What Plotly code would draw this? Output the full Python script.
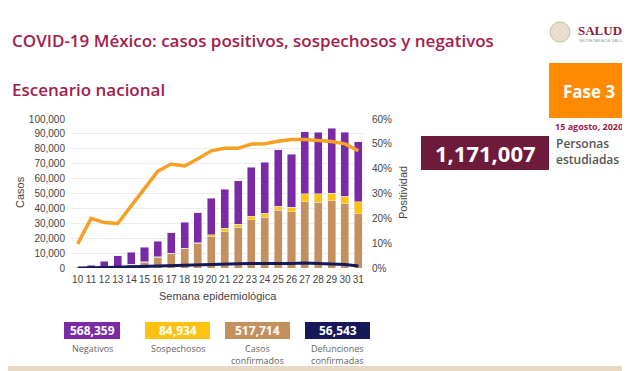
import plotly.graph_objects as go

weeks = list(range(10, 32))
confirmados = [50, 150, 500, 1000, 2500, 4000, 7200, 9600, 12800, 16500, 21000,
               24400, 27300, 32400, 34200, 38700, 37800, 44500, 44100, 45000, 43200, 36400]
sospechosos = [0, 20, 50, 100, 150, 200, 250, 300, 400, 500, 1300,
               2200, 2000, 2500, 2500, 2900, 3100, 5200, 5600, 5300, 4900, 8100]
negativos = [250, 1830, 3950, 7200, 7850, 9700, 10650, 13800, 17400, 20200, 24400,
             26200, 29100, 32700, 34400, 37800, 35600, 41600, 41300, 43400, 42900, 40300]
defunciones = [0, 50, 200, 500, 800, 1100, 1500, 1800, 2100, 2400, 2600,
               2800, 2900, 3100, 3000, 3100, 3000, 3300, 3100, 2900, 2400, 1300]
positividad = [9.7, 20, 18.3, 17.9, 25, 32, 39, 41.9, 41.1, 44, 47.2,
               48.2, 48.2, 49.9, 50, 51, 51.7, 51.7, 51.4, 50.9, 50, 47.2]

totales = ["568,359", "84,934", "517,714", "56,543"]
etiquetas = ["Negativos", "Sospechosos", "Casos<br>confirmados", "Defunciones<br>confirmadas"]

C_NEG = "#7B2AA6"
C_SOS = "#FFC20E"
C_CONF = "#C4915E"
C_DEF = "#15195A"
C_POS = "#F5A025"
CRIMSON = "#A3204C"
MAROON = "#6E1A3A"

OFF = 8  # browser body margin
W, H = 630 - OFF, 371 - OFF
L, R, T, B = 71, 365, 119, 268  # page pixel coords of plot area

def px(x):
    return (x - L) / (R - L)

def py(y):
    return (B - y) / (B - T)

fig = go.Figure()
fig.add_trace(go.Bar(x=weeks, y=confirmados, marker_color=C_CONF, width=0.6, name="Casos confirmados"))
fig.add_trace(go.Bar(x=weeks, y=sospechosos, marker_color=C_SOS, width=0.6, name="Sospechosos"))
fig.add_trace(go.Bar(x=weeks, y=negativos, marker_color=C_NEG, width=0.6, name="Negativos"))
fig.add_trace(go.Scatter(x=weeks, y=defunciones, mode="lines", line=dict(color=C_DEF, width=3), name="Defunciones"))
fig.add_trace(go.Scatter(x=weeks, y=positividad, mode="lines", yaxis="y2",
                         line=dict(color=C_POS, width=3.5), name="Positividad"))

tick_font = dict(family="Liberation Sans, Arial", size=10, color="#444")

fig.update_layout(
    width=W, height=H,
    margin=dict(l=L - OFF, r=630 - R, t=T - OFF, b=371 - B, pad=0),
    paper_bgcolor="white", plot_bgcolor="white",
    barmode="stack", showlegend=False,
    xaxis=dict(range=[9.5, 31.5], tickmode="array", tickvals=weeks, ticktext=[str(w) for w in weeks],
               tickangle=0, showgrid=False, zeroline=False, tickfont=tick_font, ticks="", ticklen=0,
               ticklabelstandoff=4),
    yaxis=dict(range=[0, 100000], dtick=10000, tickformat=",", showgrid=True, gridcolor="#ebebeb",
               zeroline=False, tickfont=tick_font, ticks="", ticklabelstandoff=5),
    yaxis2=dict(range=[0, 60], dtick=10, ticksuffix="%", overlaying="y", side="right",
                showgrid=False, zeroline=False, tickfont=tick_font, ticks="", ticklabelstandoff=6),
)

ann = []
hdr = "Open Sans, Noto Sans, sans-serif"

def A(x, y, text, size, color, weight=400, family=hdr, xanchor="center", yanchor="middle", **kw):
    ann.append(dict(x=px(x), y=py(y), xref="paper", yref="paper", text=text, showarrow=False,
                    xanchor=xanchor, yanchor=yanchor,
                    font=dict(family=family, size=size, color=color, weight=weight), **kw))

A(10, 40, "COVID-19 México: casos positivos, sospechosos y negativos", 17, CRIMSON, 600, xanchor="left")
A(10, 89, "Escenario nacional", 17, CRIMSON, 600, xanchor="left")
A(20, 192, "Casos", 11, "#444", family="Liberation Sans, Arial", textangle=-90)
A(403, 193, "Positividad", 11, "#444", family="Liberation Sans, Arial", textangle=-90)
A(218, 296, "Semana epidemiológica", 11, "#444", family="Liberation Sans, Arial")

shapes = []

def S(x0, x1, y0, y1, color, kind="rect", line=None):
    shapes.append(dict(type=kind, xref="paper", yref="paper", x0=px(x0), x1=px(x1), y0=py(y1), y1=py(y0),
                       fillcolor=color, line=line or dict(width=0), layer="above"))

# Fase 3 box
S(549, 629, 63, 118, "#FF8A00")
A(589, 91, "Fase 3", 17, "white", 700)
A(589, 126, "15 agosto, 2020", 9, CRIMSON, 700)
# SALUD logo
S(550, 570, 22, 42, "#e8ddd0", kind="circle", line=dict(color="#c8b8a4", width=1))
A(576, 30, "SALUD", 13, "#8a1c3c", 700, family="Liberation Serif, serif", xanchor="left")
A(577, 40, "SECRETARÍA DE SALUD", 4, "#999", family="Liberation Sans, Arial", xanchor="left")
# Personas box
S(421, 549, 136, 170, MAROON)
A(485, 153, "1,171,007", 22, "white", 700)
A(554, 151, "Personas<br>estudiadas", 12, "#555", 600, xanchor="left", align="left")

# Bottom summary boxes
boxes = [(64, 120, C_NEG), (145, 210, C_SOS), (225, 290, C_CONF), (305, 370, C_DEF)]
for (x0, x1, col), val, lab in zip(boxes, totales, etiquetas):
    S(x0, x1, 322, 339, col)
    A((x0 + x1) / 2, 330.5, val, 12, "white", 700)
    A((x0 + x1) / 2, 340, lab, 9, "#666", yanchor="top")
# bottom stripe
S(OFF, 630, 366, 371, "#e9d9c2")

fig.update_layout(annotations=ann, shapes=shapes)
fig.write_html("out.html")
